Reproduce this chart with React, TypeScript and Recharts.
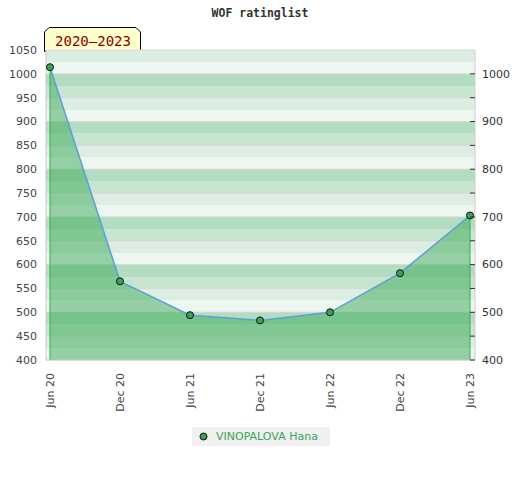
import React from 'react';
import { AreaChart, Area, XAxis, YAxis, CartesianGrid, ReferenceLine } from 'recharts';

const categories = ['Jun 20', 'Dec 20', 'Jun 21', 'Dec 21', 'Jun 22', 'Dec 22', 'Jun 23'];
const ratings = [1014, 565, 494, 483, 500, 582, 703];
const yDomain = [400, 1050];
const leftTicks = [400, 450, 500, 550, 600, 650, 700, 750, 800, 850, 900, 950, 1000, 1050];
const rightTicks = [400, 450, 500, 550, 600, 650, 700, 750, 800, 850, 900, 950, 1000];
const bandTicks = [400, 425, 450, 475, 500, 525, 550, 575, 600, 625, 650, 675, 700, 725, 750, 775, 800, 825, 850, 875, 900, 925, 950, 975, 1000, 1025, 1050];
const stripeColors = ['#dcede2', '#eef6f1', '#b3dcc1', '#c8e5d2'];
const seriesName = 'VINOPALOVA Hana';
const title = 'WOF ratinglist';
const periodLabel = '2020–2023';

const data = categories.map((c, i) => ({ cat: c, rating: ratings[i] }));

const FONT = '"DejaVu Sans", sans-serif';

const XTick = (props: any) => {
  const { x, y, payload } = props;
  return (
    <text
      x={x}
      y={y}
      transform={`rotate(-90 ${x} ${y})`}
      textAnchor="end"
      dominantBaseline="central"
      fontSize={11}
      fill="#444"
      fontFamily={FONT}
    >
      {payload.value}
    </text>
  );
};

const R_MARGIN = 7;
const RightTick = (props: any) => {
  const { x, y, payload } = props;
  const v = payload.value;
  return (
    <g>
      <line x1={x - R_MARGIN - 5} x2={x - R_MARGIN} y1={y} y2={y} stroke="#333" strokeWidth={1} />
      {v % 100 === 0 && (
        <text x={x} y={y} dy="0.35em" textAnchor="start" fontSize={11} fill="#333" fontFamily={FONT}>
          {v}
        </text>
      )}
    </g>
  );
};

const LeftTick = (props: any) => {
  const { x, y, payload } = props;
  return (
    <text x={x} y={y} dy="0.35em" textAnchor="end" fontSize={11} fill="#444" fontFamily={FONT}>
      {payload.value}
    </text>
  );
};

const Dot = (props: any) => {
  const { cx, cy } = props;
  if (cx == null || cy == null) return null;
  return <circle cx={cx} cy={cy} r={3.5} fill="#3aa35a" stroke="#111" strokeWidth={1} />;
};

export default function App() {
  const last = categories.length - 1;
  return (
    <div style={{ position: 'absolute', left: 0, top: 0, width: 520, height: 480, background: '#fff' }}>
      <div
        style={{
          position: 'absolute',
          left: 0,
          top: 5,
          width: 520,
          textAlign: 'center',
          fontFamily: '"DejaVu Sans Mono", monospace',
          fontWeight: 'bold',
          fontSize: 11.5,
          color: '#333',
          lineHeight: '16px',
        }}
      >
        {title}
      </div>
      <svg style={{ position: 'absolute', left: 44, top: 27 }} width={98} height={25}>
        <polygon
          points="0.5,24.5 0.5,5 5,0.5 92,0.5 96.5,5 96.5,24.5"
          fill="#ffffcc"
          stroke="#000"
          strokeWidth={1}
        />
        <text
          x={49}
          y={19}
          textAnchor="middle"
          fontSize={14}
          fill="#8b0000"
          fontFamily='"DejaVu Sans Mono", monospace'
        >
          {periodLabel}
        </text>
      </svg>
      <div style={{ position: 'absolute', left: 0, top: 0 }}>
        <AreaChart width={520} height={480} data={data} margin={{ top: 50, right: 1, bottom: 60, left: 0 }}>
          <CartesianGrid
            yAxisId="bands"
            vertical={false}
            stroke="none"
            horizontalFill={stripeColors}
            fillOpacity={1}
          />
          <CartesianGrid yAxisId="left" vertical={false} stroke="#d6d9d6" strokeWidth={1} />
          <XAxis
            dataKey="cat"
            padding={{ left: 4, right: 5 }}
            axisLine={{ stroke: '#cccccc' }}
            tickLine={false}
            tickSize={6}
            tickMargin={7}
            height={60}
            interval={0}
            tick={<XTick />}
          />
          <YAxis
            yAxisId="bands"
            orientation="right"
            domain={yDomain}
            ticks={bandTicks}
            interval={0}
            width={0}
            hide
            allowDataOverflow
          />
          <YAxis
            yAxisId="left"
            domain={yDomain}
            ticks={leftTicks}
            interval={0}
            width={46}
            axisLine={{ stroke: '#cccccc' }}
            tickLine={false}
            tickSize={0}
            tickMargin={9}
            tick={<LeftTick />}
            allowDataOverflow
          />
          <YAxis
            yAxisId="right"
            orientation="right"
            domain={yDomain}
            ticks={rightTicks}
            interval={0}
            width={44}
            axisLine={{ stroke: '#cccccc' }}
            tickLine={false}
            tickSize={0}
            tickMargin={R_MARGIN}
            tick={<RightTick />}
            allowDataOverflow
          />
          <Area
            yAxisId="left"
            type="linear"
            dataKey="rating"
            fill="#3aaa55"
            fillOpacity={0.5}
            stroke="#5b9fd9"
            strokeWidth={1.5}
            dot={<Dot />}
            activeDot={false}
            isAnimationActive={false}
          />
          <ReferenceLine
            yAxisId="left"
            segment={[{ x: categories[0], y: yDomain[0] }, { x: categories[0], y: ratings[0] }]}
            stroke="#3aaa55"
            strokeWidth={1}
          />
          <ReferenceLine
            yAxisId="left"
            segment={[{ x: categories[last], y: yDomain[0] }, { x: categories[last], y: ratings[last] }]}
            stroke="#3aaa55"
            strokeWidth={1}
          />
        </AreaChart>
      </div>
      <div
        style={{
          position: 'absolute',
          left: 192,
          top: 427,
          width: 138,
          height: 19,
          background: '#f0f0f0',
          fontFamily: FONT,
          fontSize: 11,
          color: '#3aa35a',
          lineHeight: '19px',
        }}
      >
        <svg style={{ position: 'absolute', left: 7, top: 5 }} width={9} height={9}>
          <circle cx={4.5} cy={4.5} r={3.5} fill="#3aa35a" stroke="#111" strokeWidth={1} />
        </svg>
        <span style={{ position: 'absolute', left: 24, top: 0, whiteSpace: 'nowrap' }}>{seriesName}</span>
      </div>
    </div>
  );
}
